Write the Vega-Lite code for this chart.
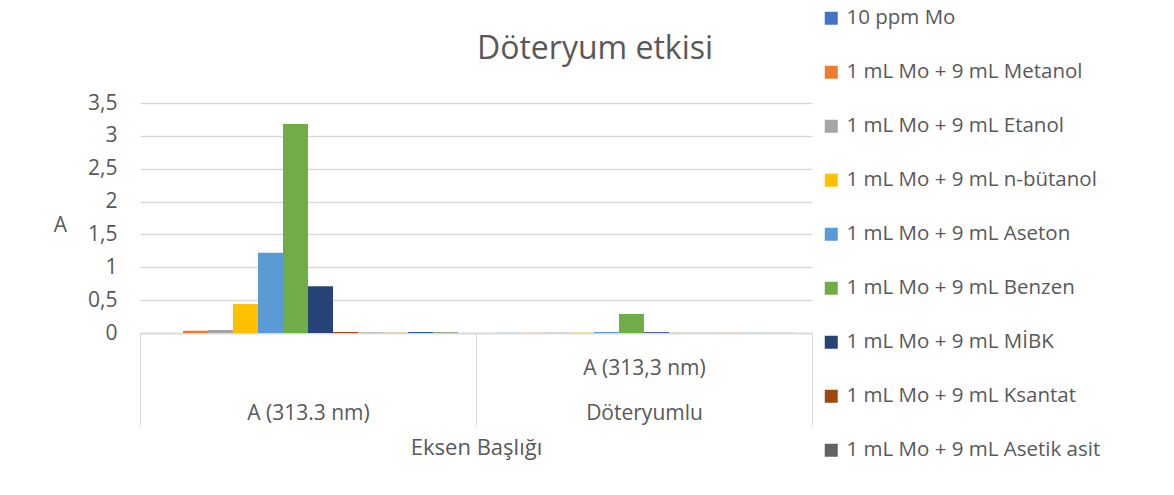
{
  "$schema": "https://vega.github.io/schema/vega-lite/v6.json",
  "width": 672,
  "height": 230,
  "autosize": {"type": "none"},
  "padding": {"left": 140, "top": 103, "right": 362, "bottom": 162},
  "background": "white",
  "title": {
    "text": "Döteryum etkisi",
    "fontSize": 32,
    "font": "Open Sans",
    "fontWeight": "normal",
    "color": "#595959",
    "anchor": "middle",
    "frame": "group",
    "baseline": "alphabetic",
    "dx": 119,
    "dy": 83,
    "offset": 0
  },
  "config": {
    "font": "Open Sans",
    "view": {"stroke": null},
    "axis": {"labelColor": "#595959", "titleColor": "#595959", "labelFont": "Open Sans", "titleFont": "Open Sans", "titleFontWeight": "normal"}
  },
  "data": {
    "values": [
      {"group": "A (313.3 nm)", "series": "10 ppm Mo", "value": 0},
      {"group": "A (313.3 nm)", "series": "1 mL Mo + 9 mL Metanol", "value": 0.035},
      {"group": "A (313.3 nm)", "series": "1 mL Mo + 9 mL Etanol", "value": 0.046},
      {"group": "A (313.3 nm)", "series": "1 mL Mo + 9 mL n-bütanol", "value": 0.44},
      {"group": "A (313.3 nm)", "series": "1 mL Mo + 9 mL Aseton", "value": 1.22},
      {"group": "A (313.3 nm)", "series": "1 mL Mo + 9 mL Benzen", "value": 3.18},
      {"group": "A (313.3 nm)", "series": "1 mL Mo + 9 mL MİBK", "value": 0.71},
      {"group": "A (313.3 nm)", "series": "1 mL Mo + 9 mL Ksantat", "value": 0.015},
      {"group": "A (313.3 nm)", "series": "1 mL Mo + 9 mL Asetik asit", "value": 0.005},
      {"group": "A (313.3 nm)", "series": "Seri 10", "value": 0.003},
      {"group": "A (313.3 nm)", "series": "Seri 11", "value": 0.015},
      {"group": "A (313.3 nm)", "series": "Seri 12", "value": 0.008},
      {"group": "Döteryumlu", "series": "10 ppm Mo", "value": 0.002},
      {"group": "Döteryumlu", "series": "1 mL Mo + 9 mL Metanol", "value": 0.002},
      {"group": "Döteryumlu", "series": "1 mL Mo + 9 mL Etanol", "value": 0.005},
      {"group": "Döteryumlu", "series": "1 mL Mo + 9 mL n-bütanol", "value": 0.005},
      {"group": "Döteryumlu", "series": "1 mL Mo + 9 mL Aseton", "value": 0.015},
      {"group": "Döteryumlu", "series": "1 mL Mo + 9 mL Benzen", "value": 0.29},
      {"group": "Döteryumlu", "series": "1 mL Mo + 9 mL MİBK", "value": 0.012},
      {"group": "Döteryumlu", "series": "1 mL Mo + 9 mL Ksantat", "value": 0.002},
      {"group": "Döteryumlu", "series": "1 mL Mo + 9 mL Asetik asit", "value": 0.002},
      {"group": "Döteryumlu", "series": "Seri 10", "value": 0.002},
      {"group": "Döteryumlu", "series": "Seri 11", "value": 0.002},
      {"group": "Döteryumlu", "series": "Seri 12", "value": 0.002}
    ]
  },
  "mark": {"type": "bar"},
  "encoding": {
    "x": {
      "field": "group",
      "type": "nominal",
      "sort": null,
      "scale": {"paddingInner": 0, "paddingOuter": 0},
      "axis": {
        "title": "Eksen Başlığı",
        "titleFontSize": 22,
        "titlePadding": 11,
        "labelAngle": 0,
        "labelFontSize": 21,
        "labelLineHeight": 45,
        "labelBaseline": "top",
        "labelPadding": -69,
        "labelExpr": "datum.value == 'Döteryumlu' ? ['A (313,3 nm)', 'Döteryumlu'] : (datum.value == 'A (313.3 nm)' ? [' ', 'A (313.3 nm)'] : '')",
        "tickBand": "extent",
        "tickSize": 93,
        "tickColor": "#d9d9d9",
        "domainColor": "#d9d9d9",
        "domainWidth": 1.5
      }
    },
    "xOffset": {
      "field": "series",
      "type": "nominal",
      "sort": null,
      "scale": {"paddingInner": 0, "paddingOuter": 0.72}
    },
    "y": {
      "field": "value",
      "type": "quantitative",
      "scale": {"domain": [0, 3.5], "nice": false},
      "axis": {
        "title": "A",
        "titleAngle": 0,
        "titleFontSize": 21,
        "titleX": -80,
        "titleY": 122,
        "titleAlign": "center",
        "titleBaseline": "middle",
        "values": [0, 0.5, 1, 1.5, 2, 2.5, 3, 3.5],
        "labelExpr": "replace(format(datum.value, '.1~f'), '.', ',')",
        "labelFontSize": 21,
        "labelPadding": 23,
        "domain": false,
        "ticks": false,
        "gridColor": "#d9d9d9",
        "gridWidth": 1.5
      }
    },
    "color": {
      "field": "series",
      "type": "nominal",
      "sort": null,
      "scale": {
        "domain": ["10 ppm Mo", "1 mL Mo + 9 mL Metanol", "1 mL Mo + 9 mL Etanol", "1 mL Mo + 9 mL n-bütanol", "1 mL Mo + 9 mL Aseton", "1 mL Mo + 9 mL Benzen", "1 mL Mo + 9 mL MİBK", "1 mL Mo + 9 mL Ksantat", "1 mL Mo + 9 mL Asetik asit", "Seri 10", "Seri 11", "Seri 12"],
        "range": ["#4472C4", "#ED7D31", "#A5A5A5", "#FFC000", "#5B9BD5", "#70AD47", "#264478", "#9E480E", "#636363", "#997300", "#255E91", "#43682B"]
      },
      "legend": {
        "title": null,
        "orient": "none",
        "legendX": 681,
        "legendY": -95,
        "values": ["10 ppm Mo", "1 mL Mo + 9 mL Metanol", "1 mL Mo + 9 mL Etanol", "1 mL Mo + 9 mL n-bütanol", "1 mL Mo + 9 mL Aseton", "1 mL Mo + 9 mL Benzen", "1 mL Mo + 9 mL MİBK", "1 mL Mo + 9 mL Ksantat", "1 mL Mo + 9 mL Asetik asit"],
        "symbolType": "square",
        "symbolSize": 169,
        "symbolStrokeWidth": 0,
        "labelFontSize": 20.5,
        "labelFont": "Open Sans",
        "labelColor": "#595959",
        "labelLimit": 400,
        "labelOffset": 5,
        "rowPadding": 33
      }
    }
  }
}
